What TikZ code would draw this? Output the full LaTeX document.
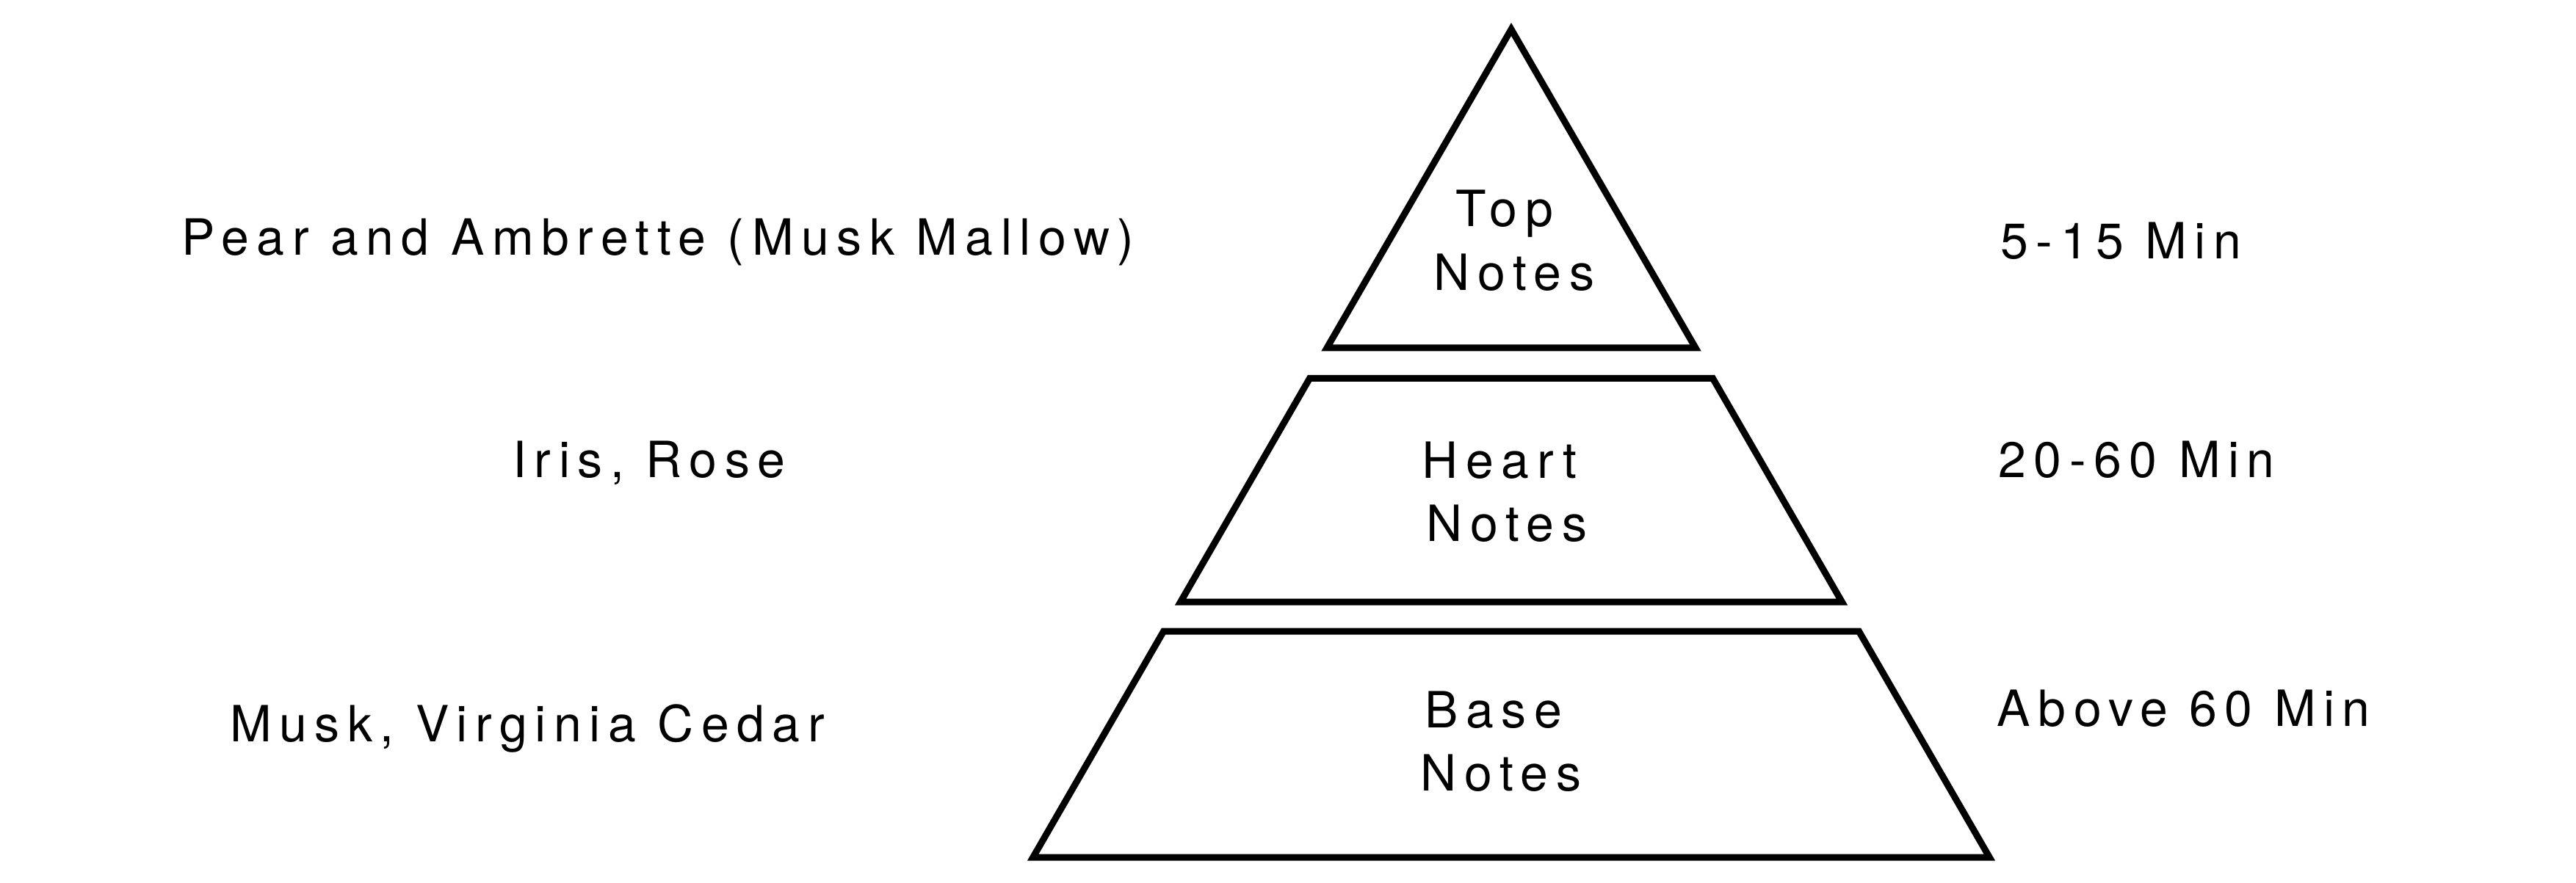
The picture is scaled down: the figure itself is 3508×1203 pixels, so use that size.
\documentclass[tikz,border=0pt]{standalone}
\usepackage{fontspec}
\setmainfont{TeX Gyre Heros}[LetterSpace=15.5]
\begin{document}
\begin{tikzpicture}[x=0.5pt,y=-0.5pt,line width=4.5pt,line join=miter,
  lbl/.style={inner sep=0pt,anchor=base,font=\fontsize{34}{43}\selectfont},
  rlbl/.style={lbl,anchor=base west}]
\useasboundingbox (0,0) rectangle (3508,1203);
% pyramid
\draw (2058,40) -- (2309,474) -- (1807,474) -- cycle;
\foreach \ya/\yb in {515.5/820,860/1168}
  \draw ({2058-0.57735*(\ya-40)},\ya) -- ({2058+0.57735*(\ya-40)},\ya)
    -- ({2058+0.57735*(\yb-40)},\yb) -- ({2058-0.57735*(\yb-40)},\yb) -- cycle;
% band names
\node[lbl] (topa) at (2049,309) {Top};
\node[lbl] (topb) at (2062,396) {Notes};
\node[lbl] (hearta) at (2042,651) {Heart};
\node[lbl] (heartb) at (2052,737) {Notes};
\node[lbl] (basea) at (2034,991) {Base};
\node[lbl] (baseb) at (2044,1077) {Notes};
% notes
\node[lbl] (pear) at (896,348) {Pear and Ambrette (Musk Mallow)};
\node[lbl] (iris) at (884,650) {Iris, Rose};
\node[lbl] (musk) at (718,1010) {Musk, Virginia Cedar};
% times
\node[rlbl] (tmina) at (2720,353) {5-15 Min};
\node[rlbl] (tminb) at (2717,650) {20-60 Min};
\node[rlbl] (tminc) at (2715,989) {Above 60 Min};
\end{tikzpicture}
\end{document}
